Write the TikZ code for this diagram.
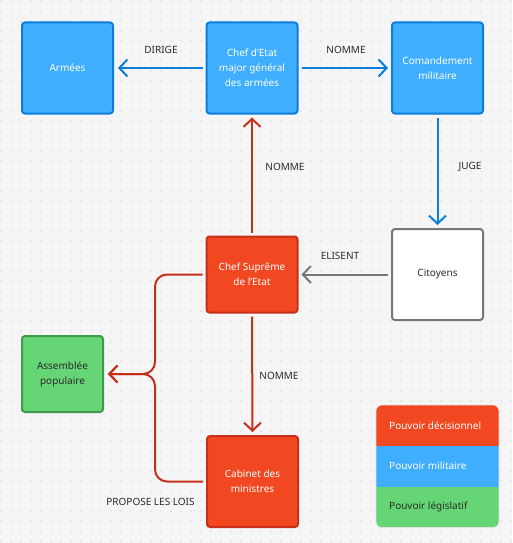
\documentclass[tikz,border=0pt]{standalone}
\usepackage{fontspec}
\setmainfont{Noto Sans}
\usetikzlibrary{arrows.meta}
\definecolor{bgcol}{HTML}{F5F5F5}
\definecolor{dotcol}{HTML}{BDBDBD}
\definecolor{bluefill}{HTML}{40AEFF}
\definecolor{blueline}{HTML}{0C7DD8}
\definecolor{redfill}{HTML}{F24822}
\definecolor{redline}{HTML}{C4301C}
\definecolor{greenfill}{HTML}{66D575}
\definecolor{greenline}{HTML}{3E9B4B}
\definecolor{greyline}{HTML}{777777}
\definecolor{textdark}{HTML}{2A2A2A}
\definecolor{legline}{HTML}{E2E2E2}
\begin{document}
\begin{tikzpicture}[x=1pt,y=-1pt]
\tikzset{
  box/.style={draw, line width=2pt, rounded corners=3pt, minimum width=91pt,
    minimum height=91pt, align=center, text=white, inner sep=2pt,
    font=\fontsize{10}{15}\selectfont},
  milbox/.style={box, fill=bluefill, draw=blueline},
  decbox/.style={box, fill=redfill, draw=redline},
  legbox/.style={box, fill=greenfill, draw=greenline, text=textdark},
  citbox/.style={box, fill=white, draw=greyline, text=textdark},
  lbl/.style={font=\fontsize{10}{12}\selectfont, text=textdark, inner sep=0pt},
  legtext/.style={font=\fontsize{10}{12}\selectfont, anchor=west, inner sep=0pt},
  flow/.style={line width=2pt, shorten <=3pt, shorten >=3pt,
    -{Straight Barb[length=8pt,width=17pt]}},
  blueflow/.style={flow, draw=blueline},
  redflow/.style={flow, draw=redline},
  greyflow/.style={flow, draw=greyline}
}
% Draw the background
\useasboundingbox (0,0) rectangle (512,543);
\fill[bgcol] (0,0) rectangle (512,543);
\foreach \x in {1,11,...,511} {
  \foreach \y in {1,11,...,541} {
    \fill[dotcol] (\x,\y) circle (0.6pt);
  }
}
% the boxes
\node[milbox] (armees) at (67.5,68) {Armées};
\node[milbox] (chefetat) at (252,68) {Chef d'Etat\\major général\\des armées};
\node[milbox] (commandement) at (437.5,68) {Comandement\\militaire};
\node[citbox] (citoyens) at (437.5,274.5) {Citoyens};
\node[decbox, minimum height=76pt] (chefsupreme) at (252,274.5) {Chef Suprême\\de l'Etat};
\node[legbox, minimum width=81pt, minimum height=76pt] (assemblee) at (62.5,374) {Assemblée\\populaire};
\node[decbox] (cabinet) at (252.5,481.5) {Cabinet des\\ministres};
% the arrows
\draw[blueflow, shorten >=4pt] (chefetat.west) -- (armees.east);
\draw[blueflow] (chefetat.east) -- (commandement.west);
\draw[blueflow] (commandement.south) -- (citoyens.north);
\draw[greyflow] (citoyens.west) -- (chefsupreme.east);
\draw[redflow] (chefsupreme.north) -- (chefetat.south);
\draw[redflow] (chefsupreme.south) -- (cabinet.north);
% the brace towards the assembly
\coordinate (fork) at (155,374);
\draw[redflow, shorten >=4pt, rounded corners=12pt] (chefsupreme.west) -| (fork) -- (assemblee.east);
\draw[redflow, shorten >=4pt, rounded corners=12pt] (cabinet.west) -| (fork) -- (assemblee.east);
% the labels
\node[lbl] (lbldirige) at (161,50) {DIRIGE};
\node[lbl] (lblnomme) at (346,50) {NOMME};
\node[lbl] (lbljuge) at (470,167) {JUGE};
\node[lbl] (lblnommeup) at (285,167) {NOMME};
\node[lbl] (lblelisent) at (340,256) {ELISENT};
\node[lbl] (lblnommedown) at (279,375.5) {NOMME};
\node[lbl] (lblpropose) at (150.5,501.5) {PROPOSE LES LOIS};
% the legend
\begin{scope}
  \clip[rounded corners=6pt] (376,405) rectangle (499,527.5);
  \fill[redfill] (376,405) rectangle (499,446);
  \fill[bluefill] (376,446) rectangle (499,486.5);
  \fill[greenfill] (376,486.5) rectangle (499,527.5);
\end{scope}
\draw[legline, line width=0.6pt, rounded corners=6pt] (376,405) rectangle (499,527.5);
\node[legtext, text=white] (legdec) at (389,425.5) {Pouvoir décisionnel};
\node[legtext, text=white] (legmil) at (389,466) {Pouvoir militaire};
\node[legtext, text=textdark] (legleg) at (389,507) {Pouvoir législatif};
\end{tikzpicture}
\end{document}
